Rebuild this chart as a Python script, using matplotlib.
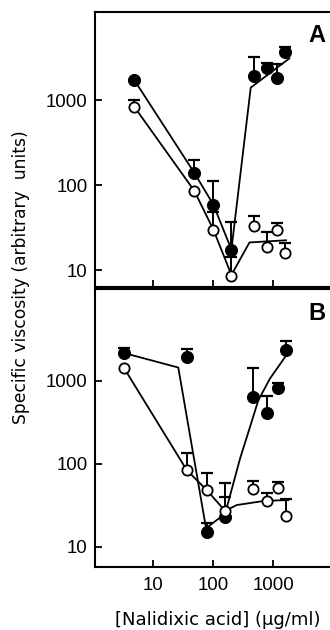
import numpy as np
import matplotlib
matplotlib.use("Agg")
from matplotlib import pyplot as plt

plt.rcParams['font.family'] = ['Liberation Sans', 'DejaVu Sans']

# ---- panel A data ----
xA = [4.8, 48, 100, 200, 470, 780, 1170, 1550]
filledA = [1720, 140, 59, 17.5, 1915, 2360, 1800, 3640]
filledA_top = [np.nan, 200, 111, 37, 3240, 2750, 2630, 4170]
openA = [834, 86, 30, 8.5, 33, 18.5, 30, 16]
openA_top = [1000, np.nan, 48, 14.4, 43, 28.5, 35.5, 21]
# fitted lines A
fitA_filled_x = [4.8, 48, 100, 200, 420, 1850]
fitA_filled_y = [1720, 140, 59, 17.5, 1400, 3090]
fitA_open_x = [4.8, 48, 100, 200, 400, 1630]
fitA_open_y = [834, 86, 30, 8.8, 21.2, 22.5]

# ---- panel B data ----
xB = [3.2, 36, 78, 157, 450, 780, 1210, 1630]
filledB = [2175, 1950, 14.9, 23, 640, 412, 810, 2390]
filledB_top = [2500, 2455, 19.1, 40, 1450, 660, 955, 3030]
openB = [1450, 84, 48, 27, 49, 36, 50.6, 23.6]
openB_top = [np.nan, 136, 77, 58, 62, 44, 61, 38]
# fitted lines B
fitB_filled_x = [3.2, 26, 75.5, 157, 279, 409, 562, 881, 1850]
fitB_filled_y = [2175, 1450, 16.7, 25, 116, 279, 585, 1070, 2300]
fitB_open_x = [3.2, 36, 78, 157, 245, 727, 1780]
fitB_open_y = [1450, 84, 48, 27, 31.8, 35.8, 36.5]

W, H = 330, 630
fig = plt.figure(figsize=(W / 100, H / 100), dpi=100)

def make_ax(top_px, bot_px):
    left = 94.7 / W
    ax = fig.add_axes([left, 1 - bot_px / H, 1 - left, (bot_px - top_px) / H])
    ax.set_xscale('log')
    ax.set_yscale('log')
    ax.spines['right'].set_visible(False)
    for s in ['left', 'top', 'bottom']:
        ax.spines[s].set_linewidth(1.5)
    ax.tick_params(which='major', direction='in', length=5.3, width=1.3,
                   labelsize=13.4, pad=5.0)
    ax.tick_params(axis='x', pad=7.5)
    ax.tick_params(which='minor', length=0)
    ax.set_xticks([10, 100, 1000])
    ax.set_xticklabels(['10', '100', '1000'])
    ax.set_yticks([10, 100, 1000])
    ax.set_yticklabels(['10', '100', '1000'])
    ax.set_xlim(1.05, 8810)
    return ax

def draw(ax, x, filled, filled_top, opn, opn_top, fx1, fy1, fx2, fy2):
    ax.plot(fx1, fy1, color='black', lw=1.3, zorder=2)
    ax.plot(fx2, fy2, color='black', lw=1.3, zorder=2)
    for y, top, z in [(filled, filled_top, 3), (opn, opn_top, 5)]:
        ax.vlines(x, y, top, color='black', lw=1.4, zorder=z)
        ax.plot(x, top, ls='none', marker='_', ms=8.4, mew=1.6,
                color='black', zorder=z)
    ax.plot(x, filled, ls='none', marker='o', ms=8.6, mfc='black',
            mec='black', mew=0.8, zorder=4)
    ax.plot(x, opn, ls='none', marker='o', ms=7.4, mfc='white',
            mec='black', mew=1.3, zorder=6)

axA = make_ax(12, 287.3)
axA.set_ylim(6.3, 10840)
axA.set_xticklabels([])
draw(axA, xA, filledA, filledA_top, openA, openA_top,
     fitA_filled_x, fitA_filled_y, fitA_open_x, fitA_open_y)
axA.text(325 / W, 1 - 42 / H, 'A', transform=fig.transFigure, ha='right',
         va='baseline', fontsize=17, fontweight='bold')

axB = make_ax(289.3, 567)
axB.set_ylim(5.69, 12740)
draw(axB, xB, filledB, filledB_top, openB, openB_top,
     fitB_filled_x, fitB_filled_y, fitB_open_x, fitB_open_y)
axB.text(325 / W, 1 - 320 / H, 'B', transform=fig.transFigure, ha='right',
         va='baseline', fontsize=17, fontweight='bold')

fig.text(21 / W, 1 - 277 / H, 'Specific viscosity (arbitrary  units)',
         rotation=90, ha='center', va='center', fontsize=12.3,
         family='DejaVu Sans')
fig.text(218 / W, 1 - 625 / H, '[Nalidixic acid] (\u03bcg/ml)',
         ha='center', va='baseline', fontsize=13, family='DejaVu Sans')

fig.savefig('out.png', dpi=100)
